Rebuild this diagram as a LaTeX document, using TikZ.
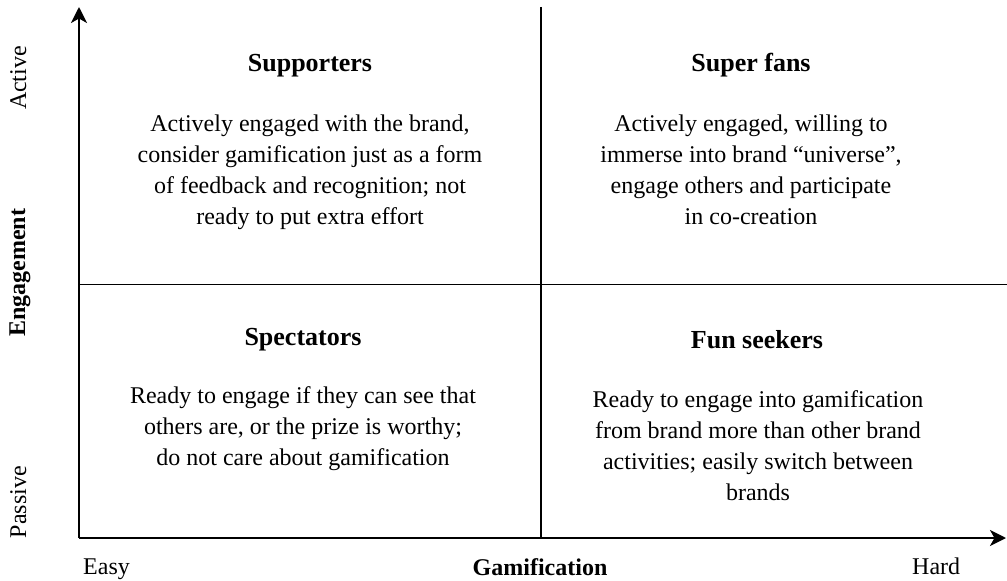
\documentclass[tikz,border=0pt]{standalone}
\usepackage{fontspec}
\setmainfont{Liberation Serif}
\usetikzlibrary{arrows.meta}

\tikzset{
  axisline/.style={line width=2.6bp, -{Stealth[length=16bp,width=16bp,inset=4.5bp]}},
  divider/.style={line width=1.6bp},
  quadtitle/.style={inner sep=0pt, anchor=base, font=\fontsize{26bp}{31bp}\selectfont\bfseries},
  quadtext/.style={inner sep=0pt, anchor=base, font=\fontsize{24bp}{31bp}\selectfont},
  axislabel/.style={inner sep=0pt, font=\fontsize{24bp}{28bp}\selectfont},
}

\newcommand{\quadbody}[1]{\setlength{\tabcolsep}{0pt}\begin{tabular}[t]{c}#1\end{tabular}}

\begin{document}
\begin{tikzpicture}[x=1bp, y=-1bp]
  \useasboundingbox (0,0) rectangle (1007,581);

  % axes and quadrant dividers
  \coordinate (origin) at (79,538);
  \coordinate (ytop) at (79,7);
  \coordinate (xend) at (1006,538);
  \coordinate (vtop) at (541,7);
  \coordinate (vbot) at (541,538);
  \coordinate (hleft) at (79,284.5);
  \coordinate (hright) at (1007,284.5);

  \draw[divider] (vtop) -- (vbot);
  \draw[divider] (hleft) -- (hright);
  \draw[axisline] (origin) -- (ytop);
  \draw[axisline] (origin) -- (xend);

  % vertical axis labels
  \node[axislabel, rotate=90, anchor=base] (active) at (26,78) {Active};
  \node[axislabel, rotate=90, anchor=base, font=\fontsize{24bp}{28bp}\selectfont\bfseries] (engagement) at (25,273) {Engagement};
  \node[axislabel, rotate=90, anchor=base] (passive) at (26,502) {Passive};

  % horizontal axis labels
  \node[axislabel, anchor=base west] (easy) at (83,574) {Easy};
  \node[axislabel, anchor=base, font=\fontsize{24bp}{28bp}\selectfont\bfseries] (gamification) at (540,575) {Gamification};
  \node[axislabel, anchor=base west] (hard) at (912,574) {Hard};

  % top left quadrant
  \node[quadtitle] (supporters) at (310,72) {Supporters};
  \node[quadtext] (supporterstext) at (310,132) {\quadbody{Actively engaged with the brand,\\
    consider gamification just as a form\\
    of feedback and recognition; not\\
    ready to put extra effort}};

  % top right quadrant
  \node[quadtitle] (superfans) at (751,72) {Super fans};
  \node[quadtext] (superfanstext) at (751,132) {\quadbody{Actively engaged, willing to\\
    immerse into brand “universe”,\\
    engage others and participate\\
    in co-creation}};

  % bottom left quadrant
  \node[quadtitle] (spectators) at (303,345) {Spectators};
  \node[quadtext] (spectatorstext) at (303,403) {\quadbody{Ready to engage if they can see that\\
    others are, or the prize is worthy;\\
    do not care about gamification}};

  % bottom right quadrant
  \node[quadtitle] (funseekers) at (757,348) {Fun seekers};
  \node[quadtext] (funseekerstext) at (758,407) {\quadbody{Ready to engage into gamification\\
    from brand more than other brand\\
    activities; easily switch between\\
    brands}};
\end{tikzpicture}
\end{document}
